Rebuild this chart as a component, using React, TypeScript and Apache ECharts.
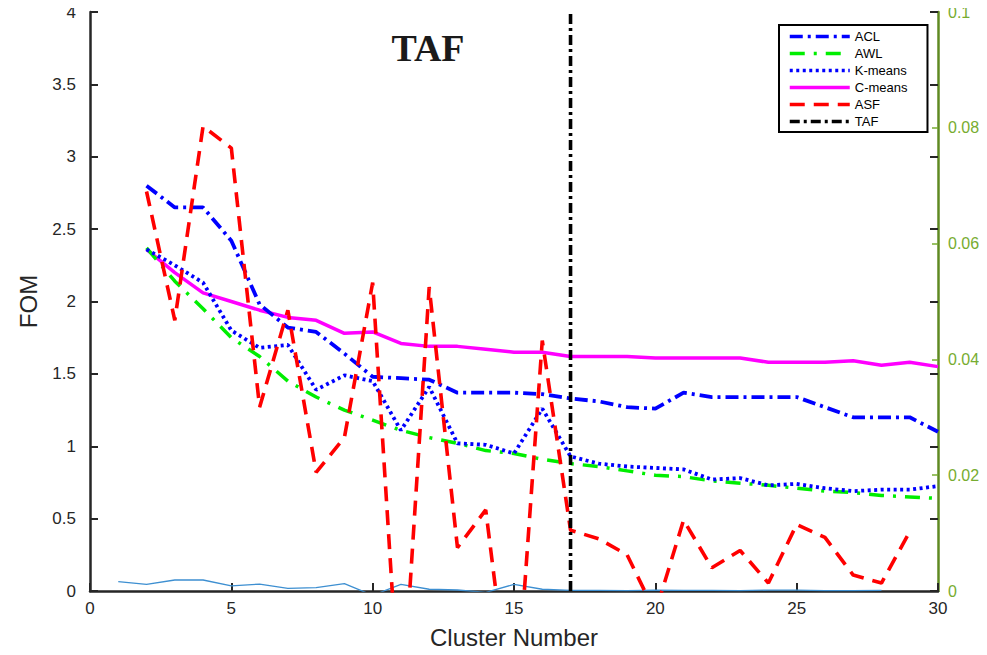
import React, { useEffect, useRef } from "react";
import * as echarts from "echarts";

const clusters = [2, 3, 4, 5, 6, 7, 8, 9, 10, 11, 12, 13, 14, 15, 16, 17, 18, 19, 20, 21, 22, 23, 24, 25, 26, 27, 28, 29, 30];
const aclValues = [2.80, 2.65, 2.65, 2.42, 1.98, 1.82, 1.79, 1.64, 1.48, 1.47, 1.46, 1.37, 1.37, 1.37, 1.36, 1.33, 1.31, 1.27, 1.26, 1.37, 1.34, 1.34, 1.34, 1.34, 1.27, 1.20, 1.20, 1.20, 1.10];
const awlValues = [2.37, 2.14, 1.95, 1.75, 1.62, 1.45, 1.34, 1.25, 1.18, 1.11, 1.06, 1.02, 0.97, 0.95, 0.91, 0.88, 0.86, 0.83, 0.80, 0.79, 0.76, 0.745, 0.73, 0.71, 0.69, 0.68, 0.66, 0.65, 0.64];
const kmeansValues = [2.36, 2.25, 2.13, 1.80, 1.68, 1.70, 1.39, 1.49, 1.45, 1.11, 1.41, 1.02, 1.01, 0.95, 1.26, 0.93, 0.88, 0.86, 0.85, 0.84, 0.77, 0.78, 0.73, 0.74, 0.71, 0.69, 0.70, 0.70, 0.725];
const cmeansValues = [2.36, 2.20, 2.06, 2.00, 1.94, 1.89, 1.87, 1.78, 1.79, 1.71, 1.69, 1.69, 1.67, 1.65, 1.65, 1.62, 1.62, 1.62, 1.61, 1.61, 1.61, 1.61, 1.58, 1.58, 1.58, 1.59, 1.56, 1.58, 1.55];
const asfClusters = [2, 3, 4, 5, 6, 7, 8, 9, 10, 11, 12, 13, 14, 15, 16, 17, 18, 19, 20, 21, 22, 23, 24, 25, 26, 27, 28, 29];
const asfValues = [2.76, 1.87, 3.21, 3.06, 1.27, 1.94, 0.82, 1.06, 2.13, -0.95, 2.10, 0.30, 0.56, -1.0, 1.73, 0.42, 0.36, 0.25, -0.15, 0.49, 0.16, 0.28, 0.055, 0.46, 0.37, 0.11, 0.055, 0.41];
const thinClusters = [1, 2, 3, 4, 5, 6, 7, 8, 9, 10, 11, 12, 13, 14, 15, 16, 17, 18, 19, 20, 21, 22, 23, 24, 25, 26, 27, 28];
const thinValues = [0.065, 0.046, 0.076, 0.076, 0.035, 0.048, 0.018, 0.023, 0.051, -0.03, 0.046, 0.012, 0.007, -0.01, 0.046, 0.012, 0.005, 0.004, 0.002, 0.006, 0.004, 0.004, 0.003, 0.006, 0.006, 0.002, 0.002, 0.004];
const tafCluster = 17;
const tafRange = [0, 4];
const xTicks = { min: 0, max: 30, interval: 5 };
const leftTicks = { min: 0, max: 4, interval: 0.5 };
const rightTicks = { min: 0, max: 0.1, interval: 0.02 };

const pairs = (xs: number[], ys: number[]) => xs.map((x, i) => [x, ys[i]]);

const FONT = "'Liberation Sans', Arial, Helvetica, sans-serif";
const GREEN = "#77ac30";

export default function App() {
  const ref = useRef<HTMLDivElement>(null);
  useEffect(() => {
    if (!ref.current) return;
    const chart = echarts.init(ref.current, null, { renderer: "svg" });
    const lineSeries = (name: string, data: number[][], color: string, type: any, width = 3) => ({
      name,
      type: "line",
      data,
      symbol: "none",
      showSymbol: false,
      clip: true,
      lineStyle: { color, width, type },
      itemStyle: { color },
      z: 3,
    });
    chart.setOption({
      animation: false,
      backgroundColor: "#ffffff",
      textStyle: { fontFamily: FONT },
      grid: { left: 90, right: 49, top: 12, bottom: 64, containLabel: false },
      legend: {
        orient: "vertical",
        left: 779,
        top: 25,
        itemWidth: 60,
        itemHeight: 14,
        itemGap: 4,
        padding: [5, 20, 4, 9],
        backgroundColor: "#ffffff",
        borderColor: "#000000",
        borderWidth: 2,
        itemStyle: { opacity: 0 },
        lineStyle: { width: 3.5 },
        textStyle: { fontSize: 13, color: "#000000", fontFamily: FONT },
        data: ["ACL", "AWL", "K-means", "C-means", "ASF", "TAF"],
      },
      graphic: [
        {
          type: "text",
          x: 428,
          y: 48,
          style: {
            text: "TAF",
            font: "bold 38px 'Liberation Serif', 'Times New Roman', serif",
            fill: "#1a1a1a",
            textAlign: "center",
            textVerticalAlign: "middle",
          },
          z: 10,
        },
      ],
      xAxis: {
        type: "value",
        ...xTicks,
        name: "Cluster Number",
        nameLocation: "middle",
        nameGap: 34,
        nameTextStyle: { fontSize: 24, color: "#262626", fontFamily: FONT },
        axisLine: { show: true, onZero: false, lineStyle: { color: "#262626", width: 2.5 } },
        axisTick: { show: true, inside: true, length: 8, lineStyle: { color: "#262626", width: 2 } },
        axisLabel: { fontSize: 17, color: "#262626", margin: 9, fontFamily: FONT },
        splitLine: { show: false },
      },
      yAxis: [
        {
          type: "value",
          ...leftTicks,
          position: "left",
          name: "FOM",
          nameLocation: "middle",
          nameGap: 50,
          nameTextStyle: { fontSize: 24, color: "#262626", fontFamily: FONT },
          axisLine: { show: true, lineStyle: { color: "#262626", width: 2.5 } },
          axisTick: { show: true, inside: true, length: 8, lineStyle: { color: "#262626", width: 2 } },
          axisLabel: { fontSize: 17, color: "#262626", margin: 14, fontFamily: FONT },
          splitLine: { show: false },
        },
        {
          type: "value",
          ...rightTicks,
          position: "right",
          axisLine: { show: true, lineStyle: { color: "#5f8a22", width: 2.5 } },
          axisTick: { show: true, inside: true, length: 6, lineStyle: { color: GREEN, width: 1.5 } },
          axisLabel: { fontSize: 16, color: GREEN, margin: 10, fontFamily: FONT },
          splitLine: { show: false },
        },
        {
          type: "value",
          ...leftTicks,
          position: "right",
          axisLine: { show: false },
          axisTick: { show: true, inside: true, length: 8, lineStyle: { color: "#262626", width: 2 } },
          axisLabel: { show: false },
          splitLine: { show: false },
        },
      ],
      series: [
        {
          name: "thin",
          type: "line",
          data: pairs(thinClusters, thinValues),
          symbol: "none",
          clip: true,
          lineStyle: { color: "#3d8fd1", width: 1.3 },
          z: 2,
        },
        lineSeries("C-means", pairs(clusters, cmeansValues), "#ff00ff", "solid", 3.5),
        lineSeries("ACL", pairs(clusters, aclValues), "#0000ff", [13, 5, 3, 5], 3.8),
        lineSeries("AWL", pairs(clusters, awlValues), "#00ee00", [15, 9, 3, 9], 3.5),
        lineSeries("K-means", pairs(clusters, kmeansValues), "#0000ff", [3, 3.5], 3.8),
        lineSeries("ASF", pairs(asfClusters, asfValues), "#ff0000", [15, 9], 3.6),
        lineSeries("TAF", [[tafCluster, tafRange[0]], [tafCluster, tafRange[1]]], "#000000", [10, 4, 3, 4], 3.6),
      ],
    });
    return () => chart.dispose();
  }, []);
  return <div ref={ref} style={{ width: 987, height: 655, margin: -8 }} />;
}
